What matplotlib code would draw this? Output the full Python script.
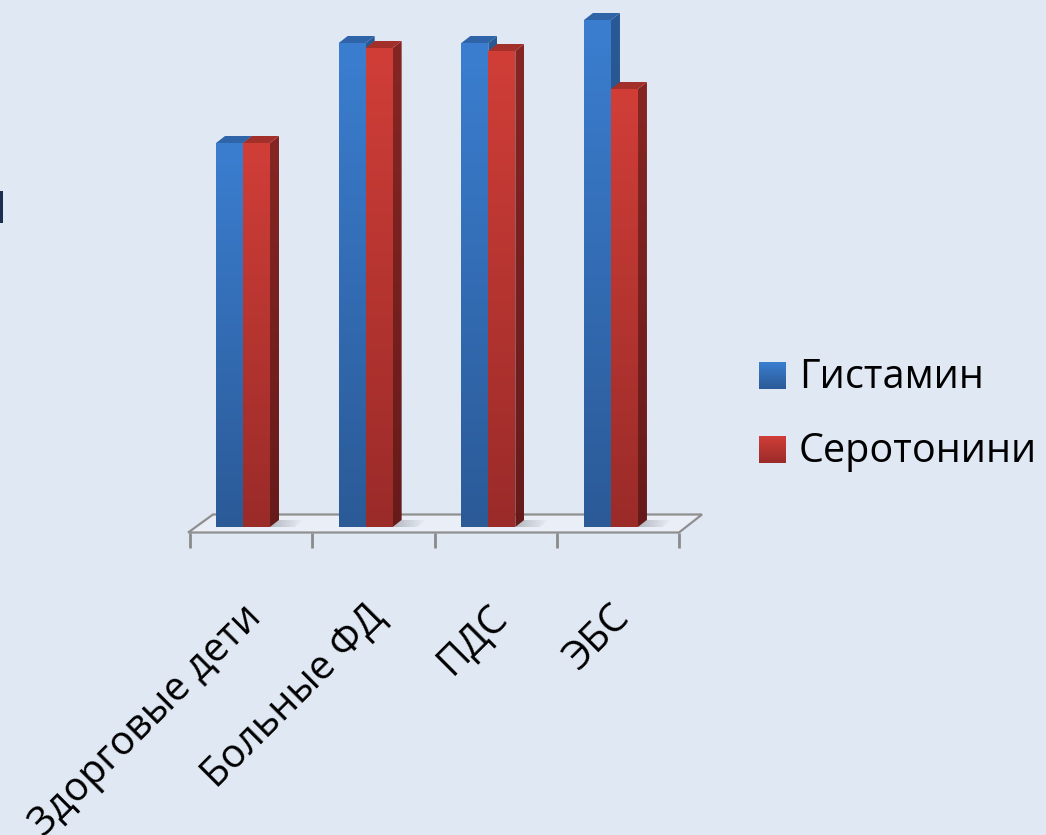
import numpy as np
import matplotlib
matplotlib.use('Agg')
import matplotlib.pyplot as plt
from matplotlib.colors import LinearSegmentedColormap
from matplotlib.patches import Polygon, Rectangle

# ---------------- data ----------------
categories = ['Здорговые дети', 'Больные ФД', 'ПДС', 'ЭБС']
series_names = ['Гистамин', 'Серотонини']
histamine = [3.84, 4.84, 4.84, 5.07]
serotonin = [3.84, 4.79, 4.76, 4.38]

# ---------------- style ----------------
W, H, DPI = 1046, 835, 100
BG = '#E0E8F4'
plt.rcParams['font.family'] = ['Open Sans', 'Noto Sans', 'DejaVu Sans']
FS = 28.5

blue_front = LinearSegmentedColormap.from_list('bf', ['#2B5A97', '#3B7ED0'])
blue_side = LinearSegmentedColormap.from_list('bs', ['#1F4578', '#2A5A96'])
blue_top = '#2F64A9'
red_front = LinearSegmentedColormap.from_list('rf', ['#9A2B29', '#D13E38'])
red_side = LinearSegmentedColormap.from_list('rs', ['#661B1A', '#862624'])
red_top = '#A32F2B'

fig = plt.figure(figsize=(W / DPI, H / DPI), dpi=DPI, facecolor=BG)


def px_axes(x0, x1, y_top, y_bot):
    return [x0 / W, (H - y_bot) / H, (x1 - x0) / W, (y_bot - y_top) / H]


YLIM = (-0.33, 5.27)
n = len(categories)

# floor axes
floor_ax = fig.add_axes(px_axes(190, 679, 0, 560), zorder=1)
floor_ax.set_axis_off()
y_front, y_back = -0.055, 0.125
depth_fx = 23 / 122.25
floor = Polygon([(-0.5 - 0.015, y_front), (n - 0.5, y_front),
                 (n - 0.5 + depth_fx, y_back), (-0.5 + depth_fx, y_back)],
                closed=True, facecolor='#E9EEF7', edgecolor='#8F8F8F', lw=1.6,
                clip_on=False)
floor_ax.add_patch(floor)
floor_ax.vlines(np.arange(n + 1) - 0.5, -0.205, y_front, color='#8A8A8A', lw=2,
                clip_on=False)
floor_ax.set_xlim(-0.5, n - 0.5)
floor_ax.set_ylim(*YLIM)

# bars axes
ax = fig.add_axes(px_axes(181.7, 672.3, 0, 560), zorder=2)
ax.set_axis_off()
w = 0.22
x = np.arange(n)
bars_h = ax.bar(x - w / 2, histamine, w, color='none', edgecolor='none')
bars_s = ax.bar(x + w / 2, serotonin, w, color='none', edgecolor='none')

ddx = 9 / 122.67
ddy = 0.07
grad = np.linspace(0, 1, 256).reshape(-1, 1)
fade = LinearSegmentedColormap.from_list('fade', [(0.45, 0.47, 0.5, 0.0), (0.45, 0.47, 0.5, 0.45)])


def draw_bar(patch, front_cmap, side_cmap, top_color, z):
    x0 = patch.get_x()
    bw = patch.get_width()
    h = patch.get_height()
    x1 = x0 + bw
    side = Polygon([(x1, 0), (x1 + ddx, ddy), (x1 + ddx, h + ddy), (x1, h)],
                   closed=True, facecolor='none', edgecolor='none',
                   transform=ax.transData)
    ax.add_patch(side)
    im = ax.imshow(grad, extent=[x1, x1 + ddx, 0, h + ddy], origin='lower',
                   cmap=side_cmap, aspect='auto', zorder=z, interpolation='bilinear')
    im.set_clip_path(side)
    top = Polygon([(x0, h), (x1, h), (x1 + ddx, h + ddy), (x0 + ddx, h + ddy)],
                  closed=True, facecolor=top_color, edgecolor='none', zorder=z)
    ax.add_patch(top)
    ax.imshow(grad, extent=[x0, x1, 0, h], origin='lower', cmap=front_cmap,
              aspect='auto', zorder=z + 0.5, interpolation='bilinear')


for i in range(n):
    bh, bs = bars_h[i], bars_s[i]
    xr = bs.get_x() + bs.get_width()
    sh = Polygon([(xr, 0), (xr + 0.2, 0), (xr + 0.2 + ddx, ddy), (xr + ddx, ddy)],
                 closed=True, facecolor='none', edgecolor='none', transform=ax.transData)
    ax.add_patch(sh)
    shim = ax.imshow(np.linspace(1, 0, 64).reshape(1, -1), extent=[xr, xr + 0.2 + ddx, 0, ddy],
                     cmap=fade, vmin=0, vmax=1, aspect='auto', zorder=1.5,
                     interpolation='bilinear')
    shim.set_clip_path(sh)
    draw_bar(bh, blue_front, blue_side, blue_top, 2 + i * 10)
    draw_bar(bs, red_front, red_side, red_top, 4 + i * 10)

# category labels
for i, cat in enumerate(categories):
    ax.text(x[i] - 0.01, -0.70, cat, rotation=45, ha='right', va='top',
            rotation_mode='anchor', fontsize=FS, color='black', clip_on=False)

ax.set_xlim(-0.5, n - 0.5)
ax.set_ylim(*YLIM)

# legend
for name, cmap, ytop in [(series_names[0], blue_front, 362), (series_names[1], red_front, 436)]:
    lax = fig.add_axes(px_axes(759, 786, ytop, ytop + 27), zorder=3)
    lax.imshow(grad, cmap=cmap, aspect='auto', origin='lower', extent=[0, 1, 0, 1])
    lax.set_axis_off()
    fig.text(799 / W, 1 - (ytop + 26) / H, name, ha='left', va='baseline',
             fontsize=FS, color='black')

# cropped element at the left edge
fig.add_artist(Rectangle((0, 1 - 223 / H), 3 / W, 32 / H, transform=fig.transFigure,
                         facecolor='#1C2E4F', edgecolor='none'))

fig.savefig('out.png', dpi=DPI, facecolor=BG)
